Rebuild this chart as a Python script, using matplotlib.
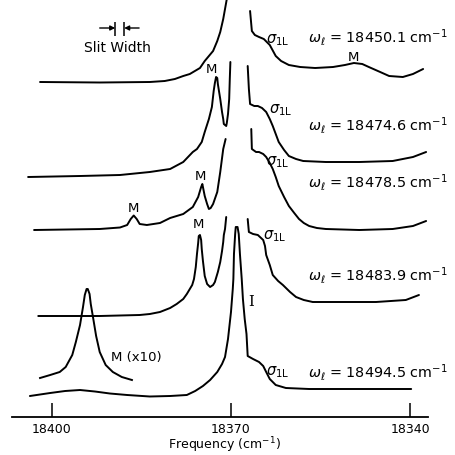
"""Resonance Raman spectra near 18370 cm-1 for five laser frequencies."""
import numpy as np
import matplotlib
matplotlib.use("Agg")
import matplotlib.pyplot as plt

GAP = np.nan  # the strong central line is off scale, so traces are broken there

# laser frequencies, top to bottom
omega_l = ["18450.1", "18474.6", "18478.5", "18483.9", "18494.5"]

# spectrum 1 (omega_l = 18450.1)
s1_freq = [18402.0, 18392.0, 18383.6, 18381.1, 18379.4, 18378.0, 18376.9, 18375.2,
           18374.4, 18373.0, 18372.3, 18371.8, 18371.3, 18371.0, 18370.7, 18370.5,
           GAP,
           18366.8, 18366.5, 18366.0, 18365.3, 18364.5, 18363.5, 18362.5, 18361.6,
           18360.3, 18358.4, 18355.9, 18352.9, 18350.9, 18349.4, 18348.0, 18346.9,
           18345.0, 18343.5, 18341.2, 18339.5, 18337.8]
s1_int = [0, -0.5, 0, 1, 3, 6, 8, 14, 21, 31, 41, 50, 63, 73, 83, 87,
          GAP,
          71, 51, 47, 45, 43, 37, 26, 21, 17, 15, 14, 15, 17, 19, 18, 15,
          10, 6, 5, 8, 13]

# spectrum 2 (omega_l = 18474.6)
s2_freq = [18404.0, 18395.3, 18388.6, 18383.6, 18380.2, 18378.0, 18376.4, 18375.7,
           18374.9, 18374.4, 18373.7, 18373.2, 18372.9, 18372.7, 18372.5, 18372.3,
           18372.2, 18371.8, 18371.5, 18371.3, 18371.2, 18370.8, 18370.7, 18370.5,
           18370.3, 18370.2, 18370.1,
           GAP,
           18367.2, 18367.0, 18366.8, 18366.1, 18365.5, 18364.8, 18364.1, 18363.5,
           18363.0, 18362.5, 18362.0, 18361.1, 18360.3, 18359.1, 18357.9, 18354.1,
           18348.5, 18342.9, 18339.5, 18337.3]
s2_int = [-1, 0, 1, 4, 7, 14, 24, 27, 34, 44, 57, 69, 85, 93, 99, 98,
          92, 77, 64, 57, 52, 50, 53, 62, 77, 97, 114,
          GAP,
          110, 87, 72, 70, 70, 68, 64, 57, 50, 42, 34, 26, 20, 17, 15, 14,
          14, 15, 19, 24]

# spectrum 3 (omega_l = 18478.5)
s3_freq = [18403.0, 18392.0, 18388.6, 18387.4, 18386.8, 18386.3, 18385.8, 18385.3,
           18384.1, 18381.9, 18380.2, 18378.0, 18376.4, 18375.5, 18375.0, 18374.8,
           18374.4, 18374.0, 18373.7, 18373.4, 18373.0, 18372.3, 18371.8, 18371.3,
           18370.9,
           GAP,
           18366.6, 18366.5, 18365.8, 18365.3, 18364.6, 18364.1, 18363.5, 18363.0,
           18362.5, 18362.0, 18361.1, 18360.3, 18359.4, 18358.6, 18357.8, 18356.9,
           18355.6, 18354.1, 18348.5, 18342.9, 18339.5, 18337.3]
s3_int = [-1, 0, 1.5, 4, 10, 13.5, 10, 5, 4, 6, 11, 15, 22, 32, 42, 45,
          33, 25, 20, 21, 25, 37, 57, 80, 90,
          GAP,
          100, 80, 77, 77, 75, 72, 66, 60, 52, 43, 32, 23, 16, 10, 6, 3,
          1, 0, -1, 0, 3, 8]

# spectrum 4 (omega_l = 18483.9)
s4_freq = [18402.3, 18392.0, 18385.3, 18383.6, 18381.9, 18380.2, 18379.1, 18378.0,
           18377.4, 18376.9, 18376.5, 18376.2, 18375.9, 18375.7, 18375.5, 18375.4,
           18375.2, 18375.0, 18374.9, 18374.7, 18374.4, 18374.0, 18373.5, 18373.0,
           18372.7, 18372.2, 18371.8, 18371.5, 18371.3, 18371.2, 18371.0, 18370.8,
           GAP,
           18367.2, 18367.0, 18366.3, 18365.5, 18364.6, 18364.3, 18364.1, 18363.5,
           18363.0, 18362.1, 18361.3, 18360.1, 18359.1, 18357.8, 18356.3, 18351.2,
           18345.7, 18340.7, 18338.5]
s4_int = [0, 0, 1, 2, 4, 8, 12, 17, 22, 27, 31, 37, 49, 62, 73, 80,
          81, 76, 67, 55, 40, 32, 29, 31, 34, 44, 54, 65, 74, 81, 87, 99,
          GAP,
          97, 84, 82, 81, 76, 70, 61, 51, 41, 35, 31, 24, 19, 16, 14, 14,
          14, 16, 21]

# spectrum 5 (omega_l = 18494.5), line I on scale
s5_freq = [18403.7, 18400.3, 18397.8, 18395.3, 18392.8, 18390.3, 18387.4, 18383.6,
           18380.2, 18377.4, 18376.0, 18374.7, 18373.5, 18372.3, 18371.5, 18371.0,
           18370.5, 18370.0, 18369.7, 18369.6, 18369.5, 18369.3, 18369.2, 18368.9,
           18368.7, 18368.5, 18368.2, 18368.0, 18367.7, 18367.4, 18367.2, 18366.3,
           18365.3, 18364.6, 18364.1, 18363.5, 18362.5, 18360.8, 18356.9, 18348.5,
           18339.8]
s5_int = [0, 3, 5, 6, 4.5, 2.5, 1, -0.5, 0, 1, 5, 10, 16, 24, 32, 39,
          57, 84, 107, 117, 142, 162, 169, 169, 162, 142, 117, 97, 77, 62, 40, 37,
          34, 30, 24, 17, 11, 8, 7, 7, 7]

# M band of spectrum 5, scale x10
m10_freq = [18402.0, 18400.3, 18398.7, 18397.7, 18396.6, 18396.0, 18395.3, 18394.8,
            18394.5, 18394.2, 18394.0, 18393.7, 18393.5, 18393.1, 18392.6, 18392.0,
            18391.0, 18389.8, 18388.3, 18386.6]
m10_int = [2, 5, 8, 13, 25, 38, 55, 73, 85, 91, 91, 86, 76, 62, 44, 28,
           15, 8, 3, 0]

slit_center = 18388.65  # cm-1
slit_width = 1.5        # cm-1

freq_ticks = [18400, 18370, 18340]

plt.rcParams["font.family"] = "DejaVu Sans"
plt.rcParams["mathtext.fontset"] = "dejavusans"

fig = plt.figure(figsize=(4.56, 4.56), dpi=100)
ax = fig.add_axes([0, 0, 1, 1])
ax.set_xlim(18408.71, 18332.29)
ax.set_ylim(0, 456)

spectra = [(s1_freq, s1_int), (s2_freq, s2_int), (s3_freq, s3_int),
           (s4_freq, s4_int), (s5_freq, s5_int)]
offsets = [373, 279, 226, 139, 59]
for (fr, it), off in zip(spectra, offsets):
    ax.plot(fr, np.asarray(it, dtype=float) + off, color="black", lw=1.4,
            solid_joinstyle="round", solid_capstyle="round")
ax.plot(m10_freq, np.asarray(m10_int, dtype=float) + 75, color="black", lw=1.4,
        solid_joinstyle="round")

# laser frequency labels
lab_fs = 10.4
omega_y = [419, 331, 274, 180, 83]
for val, y in zip(omega_l, omega_y):
    ax.text(18357.1, y, rf"$\omega_\ell$ = {val} cm$^{{-1}}$", fontsize=lab_fs,
            ha="left", va="center")

# sigma_1L shoulders
sig_pos = [(18364.1, 416), (18363.6, 346), (18364.1, 294), (18364.6, 220), (18364.1, 84)]
for x, y in sig_pos:
    ax.text(x, y, r"$\sigma_{\mathrm{1L}}$", fontsize=10.5, ha="left", va="center")

# M and I band labels
for x, y in [(18349.4, 399), (18373.2, 387), (18386.4, 248), (18375.1, 279),
             (18375.5, 231)]:
    ax.text(x, y, "M", fontsize=9.5, ha="center", va="center")
ax.text(18385.8, 98, "M (x10)", fontsize=9.5, ha="center", va="center")
ax.text(18366.6, 154, "I", fontsize=10.5, ha="center", va="center",
        family="DejaVu Serif")

# slit width marker
s_lo = slit_center + slit_width / 2
s_hi = slit_center - slit_width / 2
ax.vlines([s_lo, s_hi], 419, 433, color="black", lw=1.1)
ax.annotate("", xy=(s_lo, 427), xytext=(18392.0, 427),
            arrowprops=dict(arrowstyle="-|>", lw=1.0, color="black", mutation_scale=7,
                            shrinkA=0, shrinkB=0))
ax.annotate("", xy=(s_hi, 427), xytext=(18385.4, 427),
            arrowprops=dict(arrowstyle="-|>", lw=1.0, color="black", mutation_scale=7,
                            shrinkA=0, shrinkB=0))
ax.text(18389.1, 408, "Slit Width", fontsize=10, ha="center", va="center")

# frequency axis
for side in ("top", "left", "right"):
    ax.spines[side].set_visible(False)
ax.spines["bottom"].set_position(("data", 38))
ax.spines["bottom"].set_bounds(18406.7, 18337.0)
ax.spines["bottom"].set_linewidth(1.3)
ax.set_yticks([])
ax.set_xticks(freq_ticks)
ax.set_xticklabels([str(t) for t in freq_ticks])
ax.tick_params(axis="x", direction="in", length=10, width=1.1, pad=3.5, labelsize=9)
ax.set_xlabel("Frequency (cm$^{-1}$)", fontsize=9)
ax.xaxis.set_label_coords(0.493, 0.046)
ax.patch.set_visible(False)

fig.savefig("out.png", dpi=100, facecolor="white")
